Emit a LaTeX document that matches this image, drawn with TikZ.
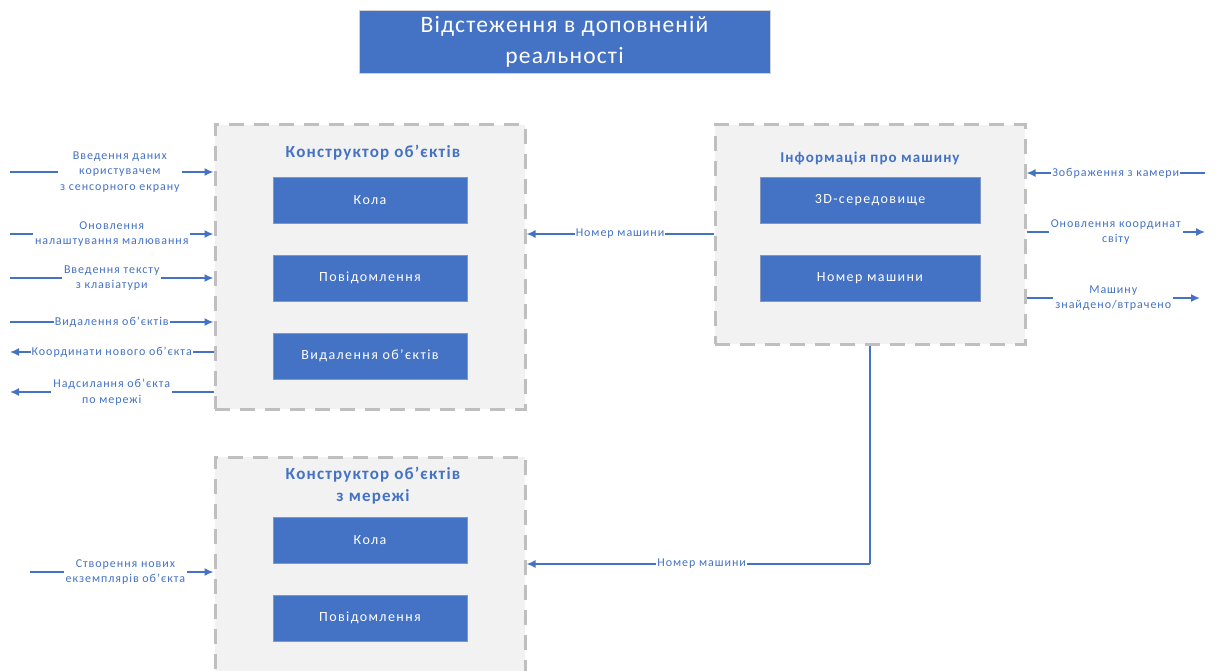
\documentclass[tikz,border=0pt]{standalone}
\usepackage{fontspec}
\setmainfont{Carlito}[LetterSpace=8]
\usetikzlibrary{arrows.meta}
\definecolor{vblue}{HTML}{4472C4}
\definecolor{vedge}{HTML}{2F528F}
\definecolor{vgrey}{HTML}{BFBFBF}
\definecolor{vpale}{HTML}{F2F2F2}

\begin{document}
\begin{tikzpicture}[x=1pt,y=-1pt]

\tikzstyle{outer}=[draw=vgrey,fill=vpale,line width=3pt,dash pattern=on 15pt off 10pt,minimum width=310pt]
\tikzstyle{inner}=[draw=vedge!60,fill=vblue,line width=.8pt,text=white,minimum height=46pt,font=\addfontfeature{LetterSpace=10}\fontsize{14}{17}\selectfont]
\tikzstyle{ttl}=[text=vblue,font=\bfseries\addfontfeature{LetterSpace=7}\fontsize{17}{22}\selectfont,align=center]
\tikzstyle{conn}=[vblue,line width=1.6pt,-{Latex[length=9pt,width=8pt]}]
\tikzstyle{lbl}=[fill=white,text=vblue,inner sep=2pt,align=center,font=\fontsize{12}{15.5}\selectfont]

\useasboundingbox (0,0) rectangle (1220,671);
\clip (0,0) rectangle (1220,671);

\node[fill=vblue,draw=vgrey!70,text=white,minimum width=411pt,minimum height=63pt,align=center,font=\addfontfeature{LetterSpace=5}\fontsize{23.5}{31}\selectfont] (hdr) at (564.5,42) {Відстеження в доповненій\\реальності};

% blocks
\node[outer,minimum height=284pt] (ctor) at (370,267) {};
\node[outer,minimum height=233pt] (ctornet) at (370,573.5) {};
\node[outer,minimum height=219pt] (carinfo) at (870,234.5) {};

\node[ttl] (ctorttl) at (373,153) {Конструктор об'єктів};
\node[ttl] (ctornetttl) at (373,486) {Конструктор об'єктів\\з мережі};
\node[ttl,font=\bfseries\addfontfeature{LetterSpace=7}\fontsize{15}{18}\selectfont] (carttl) at (870,158) {Інформація про машину};

\node[inner,minimum width=194pt] (kola) at (370,200) {Кола};
\node[inner,minimum width=194pt] (povid) at (370,278) {Повідомлення};
\node[inner,minimum width=194pt] (vydal) at (370,356) {Видалення об'єктів};
\node[inner,minimum width=194pt] (kolanet) at (370,540) {Кола};
\node[inner,minimum width=194pt] (povidnet) at (370,618) {Повідомлення};
\node[inner,minimum width=220pt] (sered) at (870,200) {3D-середовище};
\node[inner,minimum width=220pt] (nomer) at (870,278) {Номер машини};

% free ends
\node[shape=coordinate] (in1) at (10,172){};
\node[shape=coordinate] (in2) at (10,234){};
\node[shape=coordinate] (in3) at (10,278){};
\node[shape=coordinate] (in4) at (10,322){};
\node[shape=coordinate] (out5) at (10,352){};
\node[shape=coordinate] (out6) at (10,392){};
\node[shape=coordinate] (in7) at (30,572){};
\node[shape=coordinate] (cam) at (1205,173){};
\node[shape=coordinate] (world) at (1205,232){};
\node[shape=coordinate] (found) at (1200,298){};
\node[shape=coordinate] (bend) at (870,564){};

% left side
\draw[conn] (in1) -- node[lbl,pos=.54] {Введення даних\\користувачем\\з сенсорного екрану} (in1 -| ctor.west);
\draw[conn] (in2) -- node[lbl,pos=.5] {Оновлення\\налаштування малювання} (in2 -| ctor.west);
\draw[conn] (in3) -- node[lbl,pos=.5] {Введення тексту\\з клавіатури} (in3 -| ctor.west);
\draw[conn] (in4) -- node[lbl,pos=.5,inner sep=1pt] {Видалення об'єктів} (in4 -| ctor.west);
\draw[conn] (out5 -| ctor.west) -- node[lbl,pos=.5,inner sep=1pt] {Координати нового об'єкта} (out5);
\draw[conn] (out6 -| ctor.west) -- node[lbl,pos=.5] {Надсилання об'єкта\\по мережі} (out6);
\draw[conn] (in7) -- node[lbl,pos=.52] {Створення нових\\екземплярів об'єкта} (in7 -| ctornet.west);

% right side
\draw[conn] (cam) -- node[lbl,pos=.5,inner sep=1pt] {Зображення з камери} (cam -| carinfo.east);
\draw[conn] (world -| carinfo.east) -- node[lbl,pos=.5] {Оновлення координат\\світу} (world);
\draw[conn] (found -| carinfo.east) -- node[lbl,pos=.5] {Машину\\знайдено/втрачено} (found);

% between blocks
\draw[conn] (carinfo.west |- in2) -- node[lbl,pos=.5,inner sep=1pt] {Номер машини} (ctor.east |- in2);
\draw[vblue,line width=1.6pt] (carinfo.south) -- (bend);
\draw[conn] (bend) -- node[lbl,pos=.49,inner sep=1pt] {Номер машини} (bend -| ctornet.east);

\end{tikzpicture}
\end{document}
